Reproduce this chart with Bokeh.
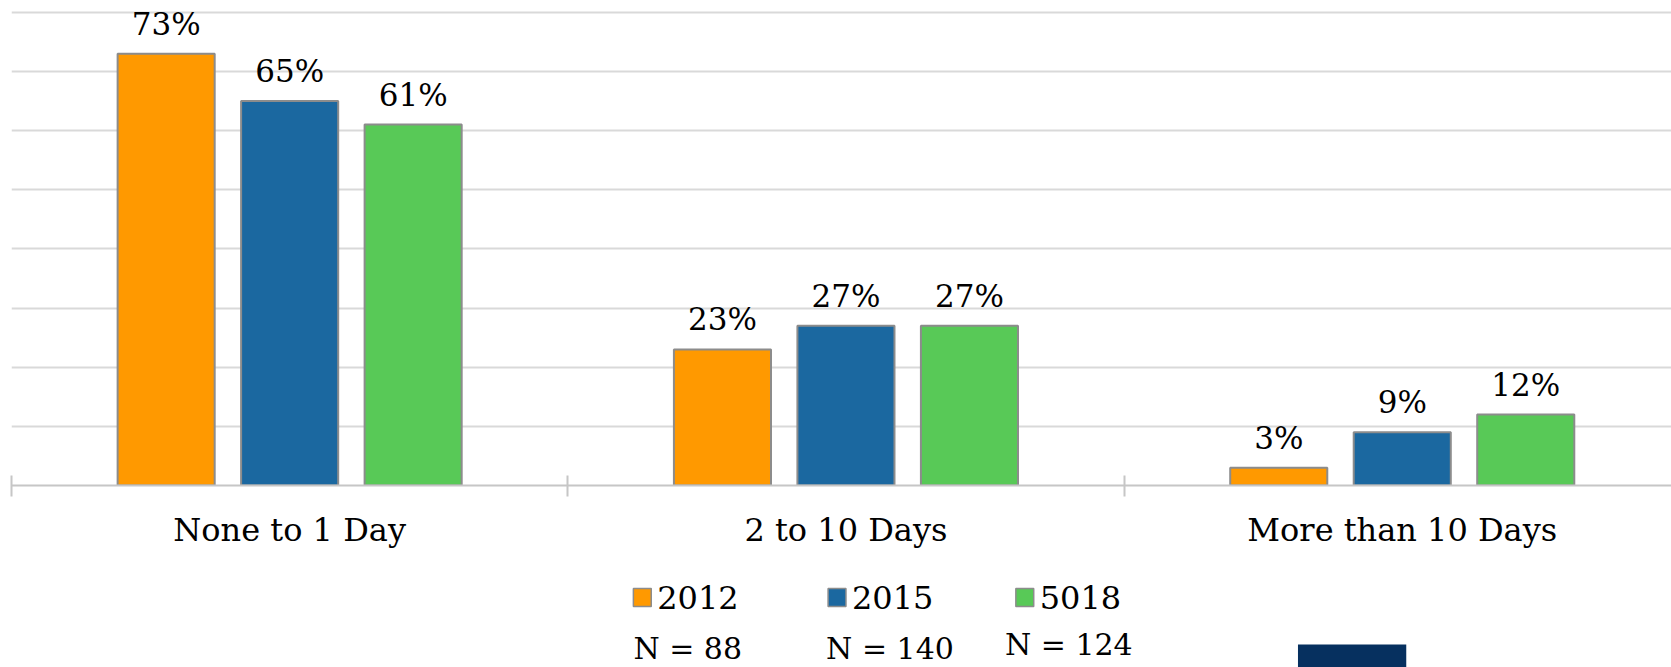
from bokeh.plotting import figure
from bokeh.models import Range1d, FixedTicker
from bokeh.layouts import column
from bokeh.embed import file_html
from bokeh.resources import INLINE
from bokeh.core.properties import value

# ---------------- data ----------------
categories = ["None to 1 Day", "2 to 10 Days", "More than 10 Days"]
series_names = ["2012", "2015", "5018"]
sample_sizes = ["N = 88", "N = 140", "N = 124"]
values_2012 = [73, 23, 3]
values_2015 = [65, 27, 9]
values_5018 = [61, 27, 12]
grid_values = [10, 20, 30, 40, 50, 60, 70, 80]

# ---------------- style ----------------
colors = ["#FF9900", "#1B68A0", "#58C957"]
FONT = "DejaVu Serif"
W = 1671
TOP_H = 565
BOT_H = 102
BAR_W = 0.1745
BAR_STEP = 0.222

series_values = [values_2012, values_2015, values_5018]

p = figure(width=W, height=TOP_H, output_backend="svg", toolbar_location=None,
           x_range=Range1d(0, 2.984), y_range=Range1d(0, 81.98),
           min_border_left=11, min_border_right=0, min_border_top=0,
           min_border_bottom=80)
p.outline_line_color = None
p.background_fill_color = "white"
p.border_fill_color = "white"
p.yaxis.visible = False
p.xgrid.visible = False
p.ygrid.ticker = FixedTicker(ticks=grid_values)
p.ygrid.grid_line_color = "#d9d9d9"
p.ygrid.grid_line_width = 2

centers = [i + 0.5 for i in range(len(categories))]
bounds = [float(i) for i in range(len(categories) + 1)]
p.xaxis.ticker = FixedTicker(ticks=centers, minor_ticks=bounds)
p.xaxis.major_label_overrides = {c: lab for c, lab in zip(centers, categories)}
p.xaxis.major_tick_line_color = None
p.xaxis.major_tick_in = 0
p.xaxis.major_tick_out = 0
p.xaxis.minor_tick_in = 10
p.xaxis.minor_tick_out = 11
p.xaxis.minor_tick_line_color = "#c6c6c6"
p.xaxis.minor_tick_line_width = 2
p.xaxis.axis_line_color = "#c6c6c6"
p.xaxis.axis_line_width = 2
p.xaxis.major_label_text_font = FONT
p.xaxis.major_label_text_font_size = "32px"
p.xaxis.major_label_text_color = "black"
p.xaxis.major_label_standoff = 14

for j, (vals, col) in enumerate(zip(series_values, colors)):
    xs = [c + (j - 1) * BAR_STEP for c in centers]
    p.vbar(x=xs, top=vals, bottom=0, width=BAR_W, fill_color=col,
           line_color="#8c8c8c", line_width=2)
    p.text(x=xs, y=vals, text=[f"{v}%" for v in vals],
           text_font=value(FONT), text_font_size="31px", text_color="black",
           text_align="center", text_baseline="alphabetic", y_offset=-30)

# ---------------- bottom: legend and sample sizes ----------------
p2 = figure(width=W, height=BOT_H, output_backend="svg", toolbar_location=None,
            x_range=Range1d(0, W), y_range=Range1d(BOT_H, 0),
            min_border_left=0, min_border_right=0, min_border_top=0,
            min_border_bottom=0)
p2.outline_line_color = None
p2.axis.visible = False
p2.grid.visible = False
p2.background_fill_color = "white"
p2.border_fill_color = "white"

sq_x = [635, 831, 1020]
p2.rect(x=sq_x, y=[32, 32, 32], width=18, height=18, fill_color=colors,
        line_color="#8c8c8c", line_width=1.5)
p2.text(x=[x + 15 for x in sq_x], y=[32, 32, 32], text=series_names,
        text_font=value(FONT), text_font_size="32px", text_color="black",
        text_align="left", text_baseline="middle")
p2.text(x=[626, 820, 1000], y=[83, 83, 79], text=sample_sizes,
        text_font=value(FONT), text_font_size="30px", text_color="black",
        text_align="left", text_baseline="alphabetic")
p2.quad(left=[1295], right=[1404], top=[79], bottom=[BOT_H + 10],
        fill_color="#06305F", line_color=None)

layout = column(p, p2, spacing=0)
open("out.html", "w").write(file_html(layout, INLINE))
